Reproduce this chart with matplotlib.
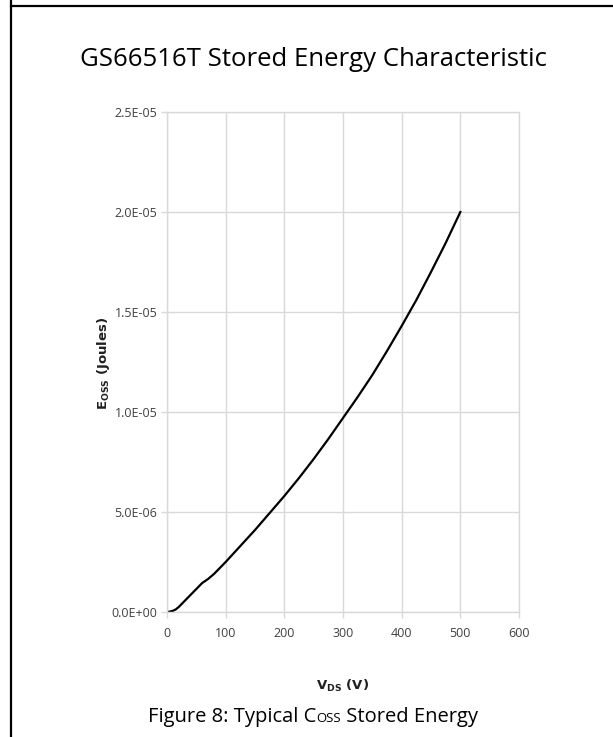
import numpy as np
import matplotlib.pyplot as plt
from matplotlib.lines import Line2D

plt.rcParams['font.family'] = ['Open Sans', 'DejaVu Sans']
plt.rcParams['mathtext.fontset'] = 'custom'
plt.rcParams['mathtext.rm'] = 'DejaVu Sans'
plt.rcParams['mathtext.bf'] = 'DejaVu Sans:bold'

# data
vds = [0, 5, 10, 15, 20, 25, 30, 40, 50, 60, 70, 80, 100, 125, 150, 175, 200,
       225, 250, 275, 300, 325, 350, 375, 400, 425, 450, 475, 500]
eoss = [0.0, 0.02e-6, 0.06e-6, 0.13e-6, 0.25e-6, 0.40e-6, 0.55e-6, 0.85e-6,
        1.15e-6, 1.45e-6, 1.65e-6, 1.90e-6, 2.50e-6, 3.30e-6, 4.10e-6,
        4.95e-6, 5.80e-6, 6.70e-6, 7.65e-6, 8.65e-6, 9.70e-6, 10.75e-6,
        11.85e-6, 13.05e-6, 14.30e-6, 15.60e-6, 17.00e-6, 18.45e-6, 20.0e-6]
xticks = [0, 100, 200, 300, 400, 500, 600]
yticks = [0, 5e-6, 1e-5, 1.5e-5, 2e-5, 2.5e-5]
ytick_labels = ['0.0E+00', '5.0E-06', '1.0E-05', '1.5E-05', '2.0E-05', '2.5E-05']

W, H = 613, 737
fig = plt.figure(figsize=(W / 100, H / 100), dpi=100)
fig.patch.set_facecolor('white')

# frame lines of the datasheet table
fig.add_artist(Line2D([11 / W, 11 / W], [0, 1], color='black', lw=1.6))
fig.add_artist(Line2D([11 / W, 1], [1 - 6 / H, 1 - 6 / H], color='black', lw=1.6))

ax = fig.add_axes([167 / W, 1 - 612 / H, (519 - 167) / W, (612 - 112) / H])
ax.plot(vds, eoss, color='black', lw=1.6)
ax.set_xlim(0, 600)
ax.set_ylim(0, 2.5e-5)
ax.set_xticks(xticks)
ax.set_xticklabels([str(t) for t in xticks])
ax.set_yticks(yticks)
ax.set_yticklabels(ytick_labels)
ax.grid(True, color='#d9d9d9', lw=1.0)
for s in ax.spines.values():
    s.set_color('#d9d9d9')
    s.set_linewidth(1.0)
ax.tick_params(colors='#d9d9d9', labelcolor='#404040', labelsize=9, length=4,
               width=1.0, pad=3)
ax.tick_params(axis='x', pad=7)

fig.text(103 / W, 1 - 363 / H, r'$\mathbf{E}_{\mathbf{OSS}}$ (Joules)',
         rotation=90, ha='center', va='center', fontsize=9.5,
         family='DejaVu Sans', fontweight='bold', color='#202020')
fig.text(343 / W, 1 - 686 / H, r'$\mathbf{V}_{\mathbf{DS}}$ (V)',
         ha='center', va='center', fontsize=9.5, fontweight='bold',
         family='DejaVu Sans', color='#202020')

fig.text(313 / W, 1 - 60 / H, 'GS66516T Stored Energy Characteristic',
         ha='center', va='center', fontsize=18.5, color='black')

# caption with small "OSS"
fig.canvas.draw()
r = fig.canvas.get_renderer()
parts = [('Figure 8: Typical C', 14.5), ('OSS', 9.5), (' Stored Energy', 14.5)]
widths = []
for txt, fs in parts:
    t = fig.text(0, 0, txt, fontsize=fs)
    widths.append(t.get_window_extent(r).width)
    t.remove()
x = 313 - sum(widths) / 2
for (txt, fs), w in zip(parts, widths):
    fig.text(x / W, 1 - 722 / H, txt, fontsize=fs, va='baseline', color='black')
    x += w

fig.savefig('out.png', dpi=100)
